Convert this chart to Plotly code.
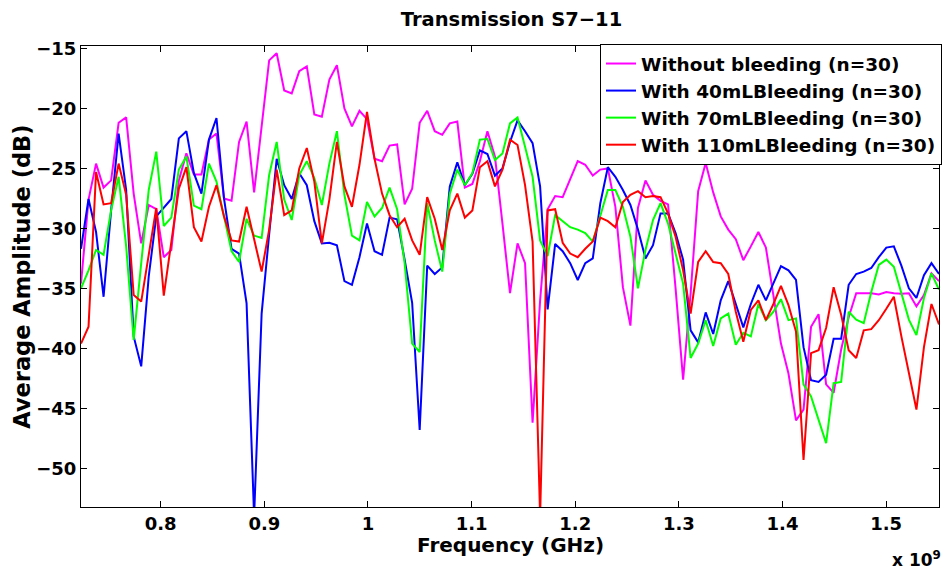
import numpy as np
import plotly.graph_objects as go

# Frequency sweep (Hz): 115 evenly spaced samples
f_start, f_stop, n_pts = 0.7231e9, 1.5510e9, 115
freq = np.linspace(f_start, f_stop, n_pts)

series_names = [
    "Without bleeding (n=30)",
    "With 40mLBleeding (n=30)",
    "With 70mLBleeding (n=30)",
    "With 110mLBleeding (n=30)",
]

without = [
    -34.6, -27.6, -24.6, -26.6, -26.0, -21.2, -20.75, -27.1, -31.25, -28.05,
    -28.4, -32.4, -31.8, -26.0, -23.75, -25.5, -25.5, -22.6, -22.1, -27.5,
    -27.7, -22.8, -21.1, -27.0, -21.5, -16.0, -15.4, -18.5, -18.75, -16.9,
    -16.5, -20.5, -20.7, -17.6, -16.4, -20.0, -21.5, -20.2, -20.9, -24.2,
    -24.4, -23.1, -23.0, -28.0, -26.7, -21.2, -20.2, -21.9, -22.2, -21.25,
    -21.1, -26.6, -26.3, -24.4, -21.9, -24.0, -29.6, -35.4, -31.25, -32.9,
    -46.2, -36.0, -28.4, -27.3, -27.4, -25.9, -24.4, -24.7, -25.6, -25.1,
    -25.0, -28.2, -34.9, -38.1, -28.3, -26.0, -27.2, -27.7, -28.0, -35.0,
    -42.6, -35.4, -26.9, -24.55, -27.0, -29.0, -30.1, -30.9, -32.65, -31.5,
    -30.3, -31.6, -35.5, -39.6, -42.1, -46.0, -45.1, -38.2, -37.15, -43.0,
    -43.7, -40.1, -37.4, -35.4, -35.4, -35.4, -35.5, -35.3, -35.4, -35.45,
    -35.4, -36.5, -35.55, -33.75, -34.4,
]

bleed_40 = [
    -31.7, -27.55, -30.3, -35.7, -28.5, -22.1, -26.8, -39.0, -41.5, -34.0,
    -29.0, -28.3, -27.55, -22.5, -21.9, -25.4, -27.1, -22.6, -20.8, -27.5,
    -31.7, -32.1, -36.25, -54.0, -37.1, -30.5, -24.2, -26.4, -27.55, -25.4,
    -26.4, -29.4, -31.25, -31.2, -31.4, -34.4, -34.7, -32.4, -29.6, -31.9,
    -32.2, -29.1, -29.25, -32.6, -36.2, -46.8, -33.1, -33.8, -33.25, -26.5,
    -24.5, -26.4, -25.45, -23.5, -23.8, -25.6, -25.0, -22.8, -21.0, -21.9,
    -22.9, -26.5, -36.75, -31.3, -31.9, -32.9, -34.3, -32.9, -32.5, -27.9,
    -24.9, -25.7, -26.8, -28.05, -30.1, -32.5, -31.4, -28.75, -28.75, -30.4,
    -32.6, -38.5, -39.5, -37.0, -38.8, -36.0, -34.4, -36.3, -38.25, -36.3,
    -34.7, -36.0, -34.6, -33.15, -33.5, -34.3, -39.9, -42.65, -42.8, -42.2,
    -39.2, -39.2, -34.7, -33.8, -33.6, -33.3, -32.4, -31.6, -31.5, -33.1,
    -35.0, -35.8, -33.9, -32.9, -33.8,
]

bleed_70 = [
    -35.0, -33.5, -31.8, -32.2, -28.5, -25.7, -31.5, -39.3, -32.9, -26.8,
    -23.6, -29.8, -29.1, -25.1, -24.0, -28.1, -28.4, -24.6, -26.1, -29.0,
    -31.9, -32.8, -29.2, -30.6, -30.8, -25.55, -22.8, -27.6, -29.3, -25.55,
    -24.4, -25.8, -28.05, -24.6, -21.9, -27.2, -30.6, -31.0, -27.8, -29.0,
    -28.3, -26.6, -28.4, -32.9, -39.6, -40.3, -27.9, -31.0, -33.6, -27.1,
    -25.1, -26.4, -25.4, -22.6, -22.55, -24.3, -23.75, -21.25, -20.75, -23.2,
    -25.7, -31.0, -32.3, -28.9, -29.4, -29.9, -30.1, -30.4, -31.1, -29.0,
    -26.8, -26.8, -28.2, -30.7, -35.0, -31.8, -29.3, -27.9, -29.6, -32.1,
    -34.6, -40.8, -39.6, -37.65, -39.8, -37.5, -37.1, -39.7, -38.7, -39.0,
    -36.3, -37.65, -36.95, -35.9, -37.65, -37.5, -43.0, -44.0, -46.0, -47.9,
    -42.9, -42.8, -36.95, -37.6, -37.9, -35.3, -33.05, -32.6, -33.2, -35.4,
    -37.6, -38.9, -35.8, -33.75, -35.1,
]

bleed_110 = [
    -39.6, -38.2, -25.3, -28.0, -27.9, -24.6, -27.2, -35.55, -36.1, -32.0,
    -28.3, -35.6, -31.0, -26.7, -24.9, -29.9, -31.1, -28.2, -26.4, -29.0,
    -31.0, -31.1, -28.2, -31.0, -33.6, -30.1, -25.1, -28.9, -28.5, -25.0,
    -23.3, -26.1, -31.25, -27.6, -22.8, -26.5, -28.2, -24.7, -20.3, -24.2,
    -27.1, -28.9, -29.9, -29.2, -31.0, -32.2, -27.4, -29.2, -31.8, -28.5,
    -27.1, -29.1, -28.5, -24.9, -24.4, -26.5, -25.1, -22.6, -23.05, -26.4,
    -31.1, -54.0, -28.5, -28.4, -31.2, -32.1, -32.4, -31.7, -31.1, -29.1,
    -29.4, -29.9, -27.8, -27.2, -26.9, -27.4, -27.3, -27.4, -28.75, -30.7,
    -33.5, -37.1, -32.8, -31.9, -32.8, -32.9, -33.8, -36.95, -39.45, -36.8,
    -36.0, -37.65, -36.3, -34.8, -36.4, -38.6, -49.3, -40.4, -40.15, -38.3,
    -34.9, -37.2, -40.15, -40.8, -38.5, -38.4, -37.65, -36.7, -35.7, -39.0,
    -42.1, -45.1, -39.9, -36.3, -38.0,
]

series_values = [without, bleed_40, bleed_70, bleed_110]
series_colors = ["#ff00ff", "#0000ff", "#00ff00", "#ff0000"]

x_tick_vals = [0.8e9, 0.9e9, 1.0e9, 1.1e9, 1.2e9, 1.3e9, 1.4e9, 1.5e9]
x_tick_text = ["0.8", "0.9", "1", "1.1", "1.2", "1.3", "1.4", "1.5"]
y_tick_vals = [-50, -45, -40, -35, -30, -25, -20, -15]

FONT = "DejaVu Sans"

fig = go.Figure()
for name, vals, col in zip(series_names, series_values, series_colors):
    fig.add_trace(go.Scatter(
        x=freq, y=vals, mode="lines", name=name,
        line=dict(color=col, width=2),
    ))

axis_common = dict(
    showline=True, linecolor="black", linewidth=1.2, mirror="ticks",
    ticks="inside", ticklen=6, tickwidth=1, tickcolor="black",
    showgrid=False, zeroline=False,
    tickfont=dict(family=FONT, size=18, color="black", weight="bold"),
)

fig.update_layout(
    width=948, height=570,
    margin=dict(l=81, r=6, t=46, b=63),
    paper_bgcolor="white", plot_bgcolor="white",
    title=dict(
        text="Transmission S7\u221211",
        x=(81 + 942) / 2 / 948, xanchor="center",
        y=1 - 19 / 570, yanchor="middle",
        font=dict(family=FONT, size=19.5, color="black", weight="bold"),
    ),
    xaxis=dict(range=[f_start, f_stop], tickvals=x_tick_vals,
               ticktext=x_tick_text, **axis_common),
    yaxis=dict(range=[-53.22, -14.8], tickvals=y_tick_vals,
               ticklabelstandoff=0, **axis_common),
    legend=dict(
        x=(945 - 81) / 861, xanchor="right",
        y=(507 - 44) / 461, yanchor="top",
        bgcolor="white", bordercolor="black", borderwidth=1,
        font=dict(family=FONT, size=18.5, color="black", weight="bold"),
        itemwidth=30,
    ),
    showlegend=True,
)

fig.add_annotation(
    text="Frequency (GHz)", xref="paper", yref="paper",
    x=0.5, y=0, xanchor="center", yanchor="middle", yshift=-38,
    showarrow=False,
    font=dict(family=FONT, size=20, color="black", weight="bold"),
)
fig.add_annotation(
    text="Average Amplitude (dB)", xref="paper", yref="paper",
    x=-60 / 861, y=0.5, xanchor="center", yanchor="middle",
    textangle=-90, showarrow=False,
    font=dict(family=FONT, size=22.5, color="black", weight="bold"),
)
fig.add_annotation(
    text="x 10<sup>9</sup>", xref="paper", yref="paper",
    x=(946 - 81) / 861, y=0, xanchor="right", yanchor="middle", yshift=-52,
    showarrow=False,
    font=dict(family=FONT, size=17, color="black", weight="bold"),
)

fig.write_html("out.html")
